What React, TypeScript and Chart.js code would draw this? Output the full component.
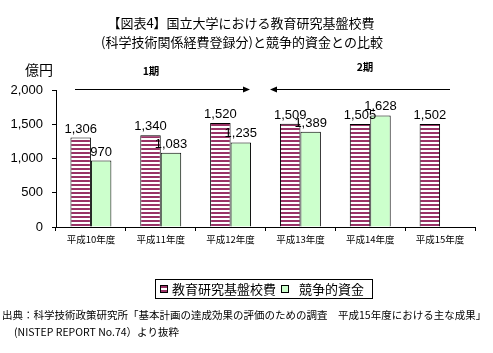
import React, { useEffect, useRef } from "react";
import { Chart, registerables } from "chart.js";

Chart.register(...registerables);

const categories = ["平成10年度", "平成11年度", "平成12年度", "平成13年度", "平成14年度", "平成15年度"];
const baseFunds = [1306, 1340, 1520, 1509, 1505, 1502];
const competitiveFunds: (number | null)[] = [970, 1083, 1235, 1389, 1628, null];
const seriesNames = ["教育研究基盤校費", "競争的資金"];
const yMin = 0;
const yMax = 2000;
const yStep = 500;
const titleLines = ["【図表4】国立大学における教育研究基盤校費", "(科学技術関係経費登録分)と競争的資金との比較"];
const unitLabel = "億円";
const periodLabels = ["1期", "2期"];
const sourceLines = [
  "出典：科学技術政策研究所「基本計画の達成効果の評価のための調査　平成15年度における主な成果」",
  "(NISTEP REPORT No.74）より抜粋",
];

const MAROON = "#993366";
const GREEN = "#CCFFCC";
const JP = '"Noto Sans CJK JP", sans-serif';
const NUM = '"Liberation Sans", Arial, sans-serif';

function makeStripe(): CanvasPattern | string {
  const c = document.createElement("canvas");
  c.width = 4;
  c.height = 4;
  const g = c.getContext("2d");
  if (!g) return MAROON;
  g.fillStyle = "#ffffff";
  g.fillRect(0, 0, 4, 4);
  g.fillStyle = MAROON;
  g.fillRect(0, 0, 4, 2);
  const p = g.createPattern(c, "repeat");
  return p || MAROON;
}

function fmt(v: number) {
  return v.toLocaleString("en-US");
}

export default function App() {
  const ref = useRef<HTMLCanvasElement | null>(null);

  useEffect(() => {
    if (!ref.current) return;
    const stripe = makeStripe();

    const labelPlugin = {
      id: "valueLabels",
      afterDatasetsDraw(chart: any) {
        const ctx = chart.ctx;
        ctx.save();
        ctx.font = `13px ${NUM}`;
        ctx.fillStyle = "#000";
        ctx.textAlign = "center";
        ctx.textBaseline = "alphabetic";
        chart.data.datasets.forEach((ds: any, di: number) => {
          const meta = chart.getDatasetMeta(di);
          meta.data.forEach((el: any, i: number) => {
            const v = ds.data[i];
            if (v == null) return;
            ctx.fillText(fmt(v), el.x, el.y - 5);
          });
        });
        ctx.restore();
      },
    };

    const decoPlugin = {
      id: "decorations",
      afterDraw(chart: any) {
        const ctx = chart.ctx;
        ctx.save();
        ctx.fillStyle = "#000";
        ctx.strokeStyle = "#000";
        // titles
        ctx.font = `13px ${JP}`;
        ctx.textAlign = "center";
        ctx.textBaseline = "middle";
        ctx.fillText(titleLines[0], 241, 23);
        ctx.fillText(titleLines[1], 242, 42);
        // unit
        ctx.font = `14px ${JP}`;
        ctx.textAlign = "left";
        ctx.fillText(unitLabel, 25, 70);
        // periods
        ctx.font = `bold 10.5px ${JP}`;
        ctx.textAlign = "center";
        ctx.fillText(periodLabels[0], 151, 71);
        ctx.fillText(periodLabels[1], 365, 67);
        // arrows
        ctx.lineWidth = 1;
        ctx.beginPath();
        ctx.moveTo(75, 89.5);
        ctx.lineTo(246, 89.5);
        ctx.moveTo(274, 89.5);
        ctx.lineTo(450, 89.5);
        ctx.stroke();
        ctx.beginPath();
        ctx.moveTo(250, 89.5);
        ctx.lineTo(243, 86.5);
        ctx.lineTo(243, 92.5);
        ctx.closePath();
        ctx.fill();
        ctx.beginPath();
        ctx.moveTo(270, 89.5);
        ctx.lineTo(277, 86.5);
        ctx.lineTo(277, 92.5);
        ctx.closePath();
        ctx.fill();
        // legend
        ctx.strokeRect(155.5, 279.5, 217, 19);
        const ds = chart.data.datasets;
        ctx.font = `13px ${JP}`;
        ctx.textAlign = "left";
        ctx.textBaseline = "middle";
        const items = [
          { x: 160, tx: 172 },
          { x: 281, tx: 299 },
        ];
        items.forEach((it, i) => {
          ctx.fillStyle = i === 0 ? "#ffffff" : ds[i].backgroundColor;
          ctx.fillRect(it.x, 285, 8, 8);
          if (i === 0) {
            ctx.fillStyle = MAROON;
            ctx.fillRect(it.x, 285, 8, 3);
            ctx.fillRect(it.x, 290, 8, 3);
          }
          ctx.strokeStyle = "#000";
          ctx.strokeRect(it.x + 0.5, 285.5, 7, 7);
          ctx.fillStyle = "#000";
          ctx.fillText(ds[i].label, it.tx, 289);
        });
        // source
        ctx.font = `10.5px ${JP}`;
        ctx.fillText(sourceLines[0], 2, 315);
        ctx.fillText(sourceLines[1], 14, 332);
        ctx.restore();
      },
    };

    const chart = new Chart(ref.current, {
      type: "bar",
      data: {
        labels: categories,
        datasets: [
          {
            label: seriesNames[0],
            data: baseFunds,
            backgroundColor: stripe as any,
            borderColor: "#000",
            borderWidth: 1,
            categoryPercentage: 0.586,
            barPercentage: 1,
          },
          {
            label: seriesNames[1],
            data: competitiveFunds,
            backgroundColor: GREEN,
            borderColor: "#000",
            borderWidth: 1,
            categoryPercentage: 0.586,
            barPercentage: 1,
          },
        ],
      },
      options: {
        animation: false,
        responsive: false,
        maintainAspectRatio: false,
        layout: { padding: { top: 90, left: 0, right: 18, bottom: 106 } },
        plugins: {
          legend: { display: false },
          tooltip: { enabled: false },
          title: { display: false },
        },
        scales: {
          x: {
            grid: { display: true, drawOnChartArea: false, tickLength: 4, color: "#000", offset: true },
            border: { color: "#000", width: 1 },
            ticks: { color: "#000", font: { family: JP, size: 9.5 }, padding: 3, maxRotation: 0 },
            afterFit: (s: any) => {
              s.height = 20;
            },
          },
          y: {
            min: yMin,
            max: yMax,
            grid: { display: true, drawOnChartArea: false, tickLength: 4, color: "#000" },
            border: { color: "#000", width: 1 },
            ticks: {
              stepSize: yStep,
              color: "#000",
              font: { family: NUM, size: 13 },
              padding: 9,
              callback: (v: any) => fmt(Number(v)),
            },
            afterFit: (s: any) => {
              s.width = 56;
            },
          },
        },
      },
      plugins: [labelPlugin, decoPlugin],
    });
    return () => chart.destroy();
  }, []);

  return (
    <div style={{ position: "absolute", left: 0, top: 0, width: 493, height: 353, background: "#fff" }}>
      <canvas ref={ref} width={493} height={353} style={{ width: 493, height: 353, display: "block" }} />
    </div>
  );
}
